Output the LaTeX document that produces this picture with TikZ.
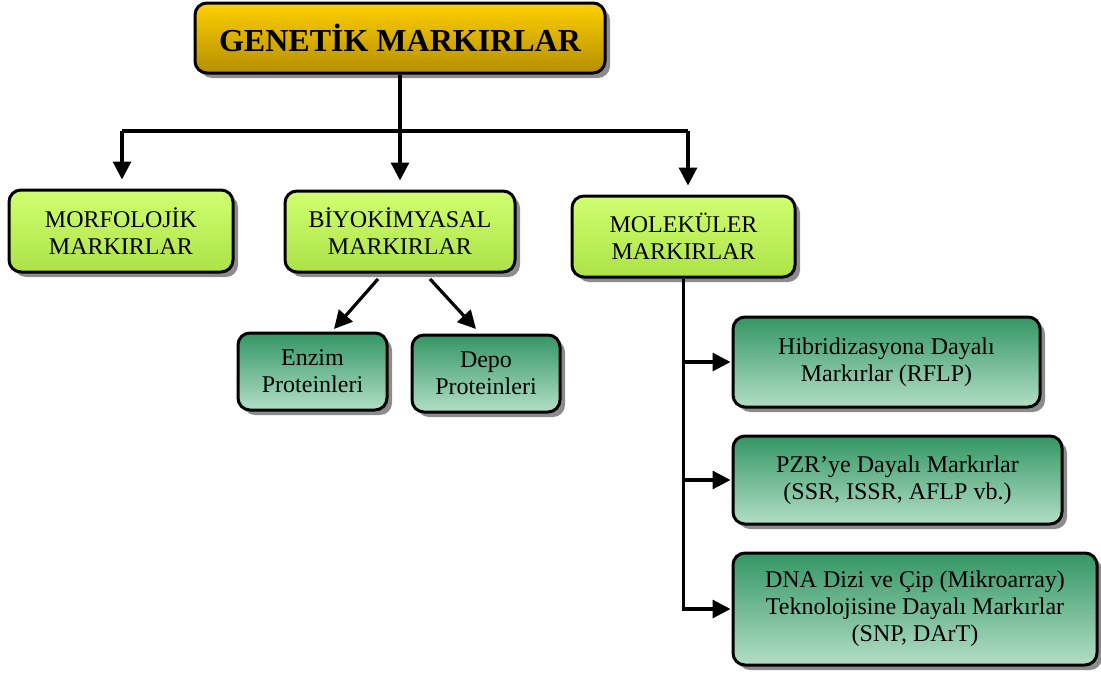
\documentclass[tikz,border=0pt]{standalone}
\usepackage{fontspec}
\setmainfont{Liberation Serif}
\usetikzlibrary{arrows.meta,shadows}

\definecolor{goldtop}{RGB}{255,208,0}
\definecolor{goldbot}{RGB}{180,142,0}
\definecolor{limetop}{RGB}{208,255,112}
\definecolor{limebot}{RGB}{172,226,72}
\definecolor{tealtop}{RGB}{52,150,100}
\definecolor{tealbot}{RGB}{178,222,198}

\tikzset{
  box/.style={draw=black, line width=3pt, rounded corners=12pt, align=center,
    inner sep=0pt, font=\fontsize{24}{27}\selectfont,
    drop shadow={shadow xshift=5pt, shadow yshift=-5pt, fill=black!45, opacity=1}},
  gold box/.style={box, top color=goldtop, bottom color=goldbot,
    font=\fontsize{32}{36}\selectfont\bfseries},
  lime box/.style={box, top color=limetop, bottom color=limebot},
  teal box/.style={box, top color=tealtop, bottom color=tealbot},
  connector/.style={line width=3.2pt},
  arrow line/.style={connector, -{Triangle[length=18pt,width=18pt]}}
}

\begin{document}
\begin{tikzpicture}[x=1pt, y=1pt]
    \useasboundingbox (0,0) rectangle (1101,-675);

    % Draw the boxes
    \node[gold box, minimum width=410, minimum height=70] (gen) at (400,-38) {GENETİK MARKIRLAR};

    \node[lime box, minimum width=224, minimum height=82] (morf) at (121,-231) {MORFOLOJİK\\MARKIRLAR};
    \node[lime box, minimum width=230, minimum height=81] (biyo) at (400,-231.5) {BİYOKİMYASAL\\MARKIRLAR};
    \node[lime box, minimum width=223, minimum height=81] (mol) at (683.5,-236.5) {MOLEKÜLER\\MARKIRLAR};

    \node[teal box, minimum width=149, minimum height=77] (enz) at (312.5,-371.5) {Enzim\\Proteinleri};
    \node[teal box, minimum width=148, minimum height=77] (depo) at (486,-373.5) {Depo\\Proteinleri};

    \node[teal box, minimum width=307, minimum height=90] (hib) at (886.5,-362) {Hibridizasyona Dayalı\\Markırlar (RFLP)};
    \node[teal box, minimum width=329, minimum height=88] (pzr) at (897.5,-480) {PZR’ye Dayalı Markırlar\\(SSR, ISSR, AFLP vb.)};
    \node[teal box, minimum width=364, minimum height=112] (dna) at (915,-609) {DNA Dizi ve Çip (Mikroarray)\\Teknolojisine Dayalı Markırlar\\(SNP, DArT)};

    % Define the points of the branches
    \coordinate (busL) at (122,-131);
    \coordinate (busR) at (688,-131);
    \coordinate (biyoL) at (378,-279);
    \coordinate (biyoR) at (430,-279);
    \coordinate (enzTip) at (334,-329);
    \coordinate (depoTip) at (476,-329);

    % Draw the connectors
    \draw[connector] (busL) -- (busR);
    \draw[arrow line, shorten >=9pt] (gen.south) -- (gen.south |- biyo.north);
    \draw[arrow line, shorten >=9pt] (busL) -- (busL |- morf.north);
    \draw[arrow line, shorten >=9pt] (busR) -- (busR |- mol.north);

    \draw[arrow line] (biyoL) -- (enzTip);
    \draw[arrow line] (biyoR) -- (depoTip);

    \draw[arrow line, shorten >=1pt] (mol.south) |- (dna.west);
    \draw[arrow line, shorten >=1pt] (mol.south |- hib.west) -- (hib.west);
    \draw[arrow line, shorten >=1pt] (mol.south |- pzr.west) -- (pzr.west);

\end{tikzpicture}
\end{document}
